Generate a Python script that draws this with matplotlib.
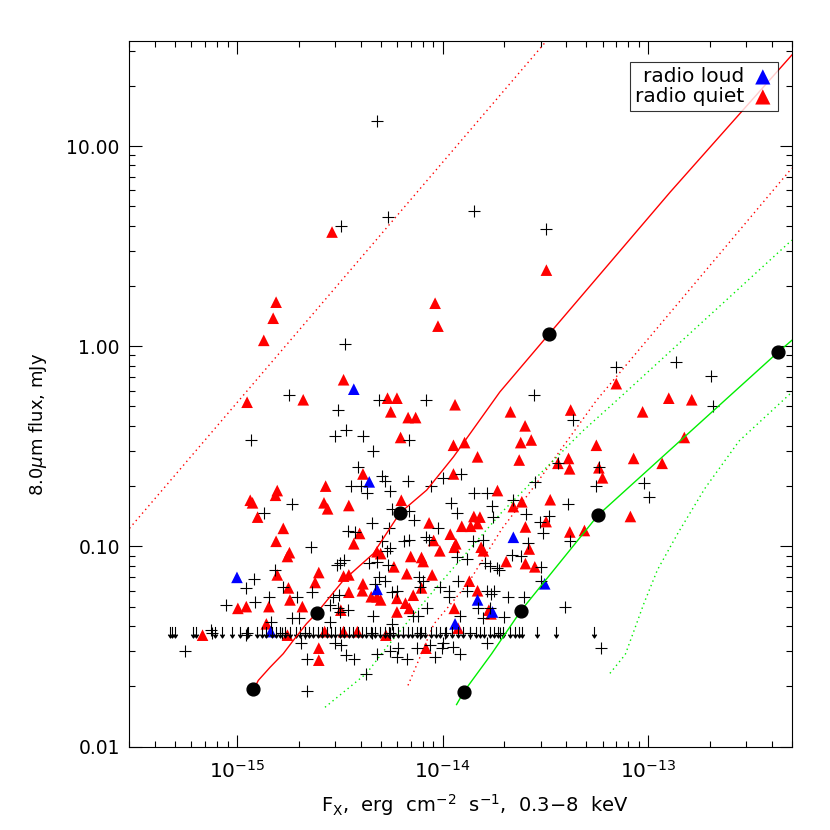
import numpy as np
import matplotlib
matplotlib.use("Agg")
import matplotlib.pyplot as plt
from matplotlib.path import Path
from matplotlib.ticker import FixedLocator, FuncFormatter, NullFormatter

plt.rcParams["font.family"] = "DejaVu Sans"
plt.rcParams["mathtext.default"] = "regular"

# x-ray flux in units of 1e-15 erg cm^-2 s^-1, 8.0um flux in mJy
radio_quiet = [
    (3.3, 0.68), (2.1, 0.54), (5.4, 0.55), (6.0, 0.55), (11.5, 0.51), (5.6, 0.47), (6.8, 0.44), (7.4, 0.44),
    (6.25, 0.35), (11.3, 0.32), (12.8, 0.33), (14.8, 0.28), (4.1, 0.23), (11.3, 0.23), (18.5, 0.19), (2.7, 0.2),
    (1.16, 0.17), (1.19, 0.165), (1.57, 0.19), (1.54, 0.18), (2.65, 0.165), (2.76, 0.154), (3.5, 0.16),
    (1.26, 0.14), (1.68, 0.123), (6.3, 0.17), (1.55, 0.106), (1.8, 0.093), (1.76, 0.089), (3.95, 0.116),
    (3.7, 0.103), (4.8, 0.094), (5.0, 0.092), (1.57, 0.072), (2.5, 0.074), (2.4, 0.066), (3.3, 0.071),
    (3.5, 0.072), (5.8, 0.079), (6.7, 0.073), (7.0, 0.089), (7.9, 0.088), (8.05, 0.084), (8.6, 0.131),
    (9.05, 0.107), (9.7, 0.095), (10.9, 0.115), (11.6, 0.103), (11.4, 0.099), (12.4, 0.126), (13.7, 0.126),
    (14.2, 0.141), (15.2, 0.14), (14.8, 0.13), (15.4, 0.099), (15.8, 0.095), (7.9, 0.062), (8.9, 0.072),
    (13.5, 0.067), (14.8, 0.06), (1.78, 0.062), (1.81, 0.054), (2.08, 0.05), (1.43, 0.05), (1.01, 0.049),
    (1.11, 0.05), (4.1, 0.065), (4.07, 0.06), (4.5, 0.056), (4.8, 0.056), (5.0, 0.054), (3.5, 0.059),
    (3.2, 0.048), (6.0, 0.055), (7.2, 0.057), (6.6, 0.052), (6.9, 0.049), (6.0, 0.047), (11.4, 0.049),
    (16.8, 0.048), (1.39, 0.041), (0.68, 0.036), (1.76, 0.036), (2.67, 0.0375), (3.3, 0.0375), (3.85, 0.0375),
    (5.3, 0.036), (2.5, 0.031), (2.5, 0.027), (11.9, 0.039), (8.3, 0.031), (42, 0.48), (94, 0.47), (126, 0.55),
    (150, 0.35), (56, 0.32), (85, 0.275), (117, 0.26), (41, 0.275), (41.5, 0.244), (36.4, 0.26), (57.6, 0.247),
    (60, 0.22), (33.4, 0.171), (82, 0.141), (31.9, 0.133), (41.6, 0.118), (49, 0.12), (25.3, 0.125),
    (26.4, 0.097), (25.3, 0.082), (28.1, 0.079), (20.4, 0.084), (22.1, 0.158), (24.3, 0.167), (23.6, 0.27),
    (24, 0.33), (27, 0.34), (25.2, 0.4), (21.4, 0.47), (17.2, 0.046),
    (2.9, 3.72), (32, 2.4), (1.55, 1.66), (1.5, 1.38), (1.35, 1.07), (9.2, 1.64), (9.5, 1.26), (1.12, 0.525),
    (70, 0.65), (163, 0.54),
]

radio_loud = [
    (3.7, 0.61), (4.4, 0.21), (1.0, 0.07), (4.8, 0.061), (14.8, 0.054), (17.5, 0.047), (11.5, 0.041),
    (22.1, 0.111), (31.4, 0.065), (1.46, 0.0375),
]

undetected = [
    (1.79, 0.57), (4.9, 0.54), (8.3, 0.54), (3.1, 0.48), (3.4, 0.38), (3.0, 0.355), (4.1, 0.355), (6.9, 0.34),
    (1.17, 0.34), (4.6, 0.3), (3.9, 0.25), (5.1, 0.225), (5.25, 0.213), (3.6, 0.2), (4.0, 0.2), (4.3, 0.184),
    (5.55, 0.19), (6.8, 0.213), (10, 0.22), (12.3, 0.23), (8.8, 0.2), (14.2, 0.184), (16.5, 0.184),
    (1.86, 0.162), (1.36, 0.147), (11, 0.164), (17.4, 0.16), (11.8, 0.146), (5.65, 0.154), (6.9, 0.151),
    (7.3, 0.136), (4.55, 0.131), (5.5, 0.124), (3.45, 0.119), (3.75, 0.118), (17.5, 0.14), (2.3, 0.099),
    (5.05, 0.106), (6.5, 0.106), (6.9, 0.108), (5.55, 0.098), (5.35, 0.095), (4.4, 0.083), (4.8, 0.084),
    (5.45, 0.081), (8.3, 0.112), (8.6, 0.107), (9.5, 0.124), (14.1, 0.106), (15.8, 0.107), (11.7, 0.088),
    (13.1, 0.086), (16.1, 0.083), (18.3, 0.078), (3.3, 0.085), (3.17, 0.083), (3.07, 0.081), (1.53, 0.076),
    (1.21, 0.069), (1.11, 0.062), (1.68, 0.063), (1.95, 0.056), (1.43, 0.056), (1.23, 0.053), (0.88, 0.051),
    (4.9, 0.07), (5.25, 0.067), (4.7, 0.065), (6.0, 0.06), (7.65, 0.07), (8.0, 0.067), (7.8, 0.063),
    (9.7, 0.063), (10.7, 0.06), (10.8, 0.056), (11.9, 0.067), (13.2, 0.06), (16.4, 0.06), (17.7, 0.06),
    (14.9, 0.049), (8.4, 0.049), (7.2, 0.045), (4.6, 0.045), (2.94, 0.056), (3.1, 0.049), (3.17, 0.047),
    (1.86, 0.044), (2.0, 0.044), (12.1, 0.045), (15.8, 0.044), (17, 0.049),
    (0.56, 0.03), (0.75, 0.038), (1.11, 0.036), (1.47, 0.042), (2.05, 0.033), (2.2, 0.0275), (2.2, 0.019),
    (2.31, 0.059), (2.83, 0.051), (2.83, 0.042), (3.0, 0.033), (3.2, 0.032), (3.4, 0.0286), (3.7, 0.0275),
    (3.14, 0.057), (3.45, 0.048), (5.65, 0.041), (4.24, 0.023), (4.8, 0.029), (5.55, 0.03), (6.0, 0.028),
    (6.1, 0.031), (6.7, 0.0275), (7.5, 0.031), (7.6, 0.045), (9.2, 0.028), (9.9, 0.031), (11.3, 0.0315),
    (12.1, 0.029), (5.65, 0.059),
    (28, 0.57), (43, 0.43), (206, 0.5), (55.7, 0.2), (95, 0.207), (101, 0.177), (40.6, 0.163), (58, 0.25),
    (36.3, 0.26), (28.3, 0.21), (22.1, 0.17), (25.5, 0.145), (29.7, 0.133), (33, 0.142), (30.8, 0.117),
    (41.5, 0.106), (25.9, 0.104), (24.1, 0.09), (21.7, 0.091), (30, 0.079), (17, 0.08), (18.9, 0.076),
    (30.2, 0.067), (17.3, 0.058), (20.8, 0.056), (24.8, 0.056), (39.6, 0.05), (20, 0.0445), (16.5, 0.033),
    (59, 0.031), (10, 0.033), (8.7, 0.032),
    (4.8, 13.3), (5.4, 4.42), (14.2, 4.73), (32, 3.85), (3.2, 3.98), (3.35, 1.03), (70, 0.79), (136, 0.83),
    (203, 0.71),
    (0.756, 0.037), (1.12, 0.037), (1.66, 0.037), (2.14, 0.037), (4.54, 0.037), (5.55, 0.037), (7.76, 0.037),
    (10.3, 0.037), (13.6, 0.037), (19, 0.037),
]

# 8um upper limits
limit_fx = [0.472, 0.483, 0.499, 0.611, 0.632, 0.782, 0.846, 0.945, 1.03, 1.13, 1.25, 1.32, 1.38, 1.48,
            1.55, 1.62, 1.71, 1.81, 1.94, 2.02, 2.14, 2.24, 2.34, 2.48, 2.59, 2.74, 2.87, 3.0, 3.17, 3.31,
            3.51, 3.67, 3.88, 4.05, 4.24, 4.49, 4.69, 4.96, 5.25, 5.49, 5.74, 6.07, 6.42, 6.79, 7.10, 7.50,
            7.85, 8.21, 8.79, 9.29, 9.71, 10.4, 11.1, 11.9, 12.6, 13.6, 14.5, 15.2, 15.9, 17.0, 17.8, 18.6,
            19.7, 21.3, 22.5, 23.5, 24.3, 28.8, 35.6, 54.5]
limit_f8 = 0.0372

# model tracks
red_track = [(1.2, 0.0191), (1.27, 0.0214), (1.45, 0.0249), (1.68, 0.0291), (1.88, 0.0339), (2.18, 0.0411),
             (2.44, 0.0464), (3.29, 0.0676), (4.6, 0.0919), (6.21, 0.147), (8.37, 0.191), (11.3, 0.28),
             (19, 0.591), (32.9, 1.148), (128, 5.89), (500, 28.5)]
red_dots = [(1.2, 0.0193), (2.44, 0.0464), (6.21, 0.147), (32.9, 1.148)]
red_upper = [(0.3, 0.123), (32, 33.5)]
red_lower = [(6.79, 0.0202), (7.76, 0.0279), (9.07, 0.0409), (13.3, 0.0653), (19.4, 0.122), (28.3, 0.203),
             (56.1, 0.537), (500, 7.76)]
green_track = [(11.7, 0.0162), (12.7, 0.0188), (17.3, 0.029), (24.1, 0.0478), (57.2, 0.1435), (428, 0.933),
               (500, 1.07)]
green_dots = [(12.7, 0.0188), (24.1, 0.0478), (57.2, 0.1435), (428, 0.933)]
green_upper = [(2.68, 0.0157), (4.27, 0.0232), (5.35, 0.0314), (9.08, 0.0603), (19.4, 0.148), (48.2, 0.378),
               (70.5, 0.537), (500, 3.39)]
green_lower = [(65.2, 0.0232), (77.4, 0.0288), (85.3, 0.0378), (95.4, 0.0519), (111, 0.0763), (140, 0.117),
               (189, 0.195), (277, 0.336), (500, 0.589)]

unit = 1e-15


def xy(pairs):
    a = np.array(pairs, dtype=float)
    return a[:, 0] * unit, a[:, 1]


fig = plt.figure(figsize=(8.3, 8.3), dpi=100)
ax = fig.add_axes([0.156, 0.1006, 0.798, 0.85])

down_arrow = Path([(0, 1), (0, -1), (-0.4, -0.4), (0, -1), (0.4, -0.4)],
                  [Path.MOVETO, Path.LINETO, Path.MOVETO, Path.LINETO, Path.LINETO])

dot = (0, (1, 2.5))
for track in [red_upper, red_lower]:
    x, y = xy(track)
    ax.plot(x, y, color="red", lw=1.0, ls=dot, zorder=2)
for track in [green_upper, green_lower]:
    x, y = xy(track)
    ax.plot(x, y, color="#00ee00", lw=1.0, ls=dot, zorder=2)

x, y = xy(radio_quiet)
ax.scatter(x, y, marker="^", s=70, color="red", edgecolors="none", zorder=3)
x, y = xy(radio_loud)
ax.scatter(x, y, marker="^", s=70, color="blue", edgecolors="none", zorder=3)
x, y = xy(undetected)
ax.scatter(x, y, marker="+", s=80, color="black", linewidths=0.8, zorder=4)
ax.plot(np.array(limit_fx) * unit, [limit_f8] * len(limit_fx), ls="none", marker=down_arrow,
        ms=8, mew=0.8, color="black", zorder=4)

x, y = xy(red_track)
ax.plot(x, y, color="red", lw=1.0, zorder=5)
x, y = xy(green_track)
ax.plot(x, y, color="#00ee00", lw=1.0, zorder=5)
for dots in [red_dots, green_dots]:
    x, y = xy(dots)
    ax.scatter(x, y, s=85, color="black", zorder=6)

ax.set_xscale("log")
ax.set_yscale("log")
ax.set_xlim(3e-16, 5e-13)
ax.set_ylim(0.01, 33.5)

ax.xaxis.set_major_locator(FixedLocator([1e-15, 1e-14, 1e-13]))
ax.xaxis.set_major_formatter(FuncFormatter(lambda v, p: r"$10^{%d}$" % round(np.log10(v))))
ax.xaxis.set_minor_locator(FixedLocator([m * 10.0 ** e for e in range(-16, -12) for m in range(2, 10)]))
ax.xaxis.set_minor_formatter(NullFormatter())
ax.yaxis.set_major_locator(FixedLocator([0.01, 0.1, 1, 10]))
ax.yaxis.set_major_formatter(FuncFormatter(lambda v, p: "%.2f" % v))
ax.yaxis.set_minor_locator(FixedLocator([m * 10.0 ** e for e in range(-2, 2) for m in range(2, 10)]))
ax.yaxis.set_minor_formatter(NullFormatter())

ax.tick_params(which="both", direction="in", top=True, right=True, width=0.8)
ax.tick_params(which="major", length=9)
ax.tick_params(which="minor", length=4.5)
ax.tick_params(axis="x", pad=10, labelsize=14.5)
ax.tick_params(axis="y", pad=7, labelsize=13.5)
for s in ax.spines.values():
    s.set_linewidth(0.8)

ax.set_xlabel(r"F$_X$,  erg  cm$^{-2}$  s$^{-1}$,  0.3$-$8  keV", fontsize=14)
ax.set_ylabel(r"8.0$\mathit{\mu}$m flux, mJy", fontsize=13)
ax.xaxis.set_label_coords(0.522, -0.064)
ax.yaxis.set_label_coords(-0.121, 0.456)

h1 = ax.scatter([], [], marker="^", s=120, color="blue", edgecolors="none")
h2 = ax.scatter([], [], marker="^", s=120, color="red", edgecolors="none")
leg = ax.legend([h1, h2], ["radio loud", "radio quiet"], loc="upper right", bbox_to_anchor=(0.979, 0.97),
                borderaxespad=0, markerfirst=False, fontsize=14.5, frameon=True, fancybox=False,
                handlelength=1.0, handletextpad=0.4, borderpad=0.25, labelspacing=0.05)
leg.get_frame().set_edgecolor("black")
leg.get_frame().set_linewidth(0.8)

fig.savefig("out.png", dpi=100)
